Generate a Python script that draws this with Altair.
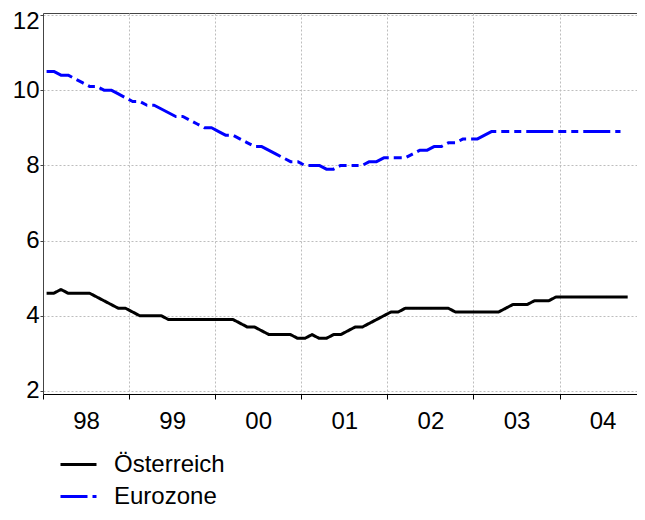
import altair as alt
import pandas as pd

year_labels = ["98", "99", "00", "01", "02", "03", "04"]
series_names = ["Österreich", "Eurozone"]

# monthly values from Jan 1998
austria = [4.6, 4.6, 4.7, 4.6, 4.6, 4.6, 4.6, 4.5, 4.4, 4.3, 4.2, 4.2,
           4.1, 4.0, 4.0, 4.0, 4.0, 3.9, 3.9, 3.9, 3.9, 3.9, 3.9, 3.9,
           3.9, 3.9, 3.9, 3.8, 3.7, 3.7, 3.6, 3.5, 3.5, 3.5, 3.5, 3.4,
           3.4, 3.5, 3.4, 3.4, 3.5, 3.5, 3.6, 3.7, 3.7, 3.8, 3.9, 4.0,
           4.1, 4.1, 4.2, 4.2, 4.2, 4.2, 4.2, 4.2, 4.2, 4.1, 4.1, 4.1,
           4.1, 4.1, 4.1, 4.1, 4.2, 4.3, 4.3, 4.3, 4.4, 4.4, 4.4, 4.5,
           4.5, 4.5, 4.5, 4.5, 4.5, 4.5, 4.5, 4.5, 4.5, 4.5]
eurozone = [10.5, 10.5, 10.4, 10.4, 10.3, 10.2, 10.1, 10.1, 10.0, 10.0, 9.9, 9.8,
            9.7, 9.7, 9.6, 9.6, 9.5, 9.4, 9.3, 9.3, 9.2, 9.1, 9.0, 9.0,
            8.9, 8.8, 8.8, 8.7, 8.6, 8.5, 8.5, 8.4, 8.3, 8.2, 8.1, 8.1,
            8.0, 8.0, 8.0, 7.9, 7.9, 8.0, 8.0, 8.0, 8.0, 8.1, 8.1, 8.2,
            8.2, 8.2, 8.2, 8.3, 8.4, 8.4, 8.5, 8.5, 8.6, 8.6, 8.7, 8.7,
            8.7, 8.8, 8.9, 8.9, 8.9, 8.9, 8.9, 8.9, 8.9, 8.9, 8.9, 8.9,
            8.9, 8.9, 8.9, 8.9, 8.9, 8.9, 8.9, 8.9, 8.9]

rows = []
for name, vals in zip(series_names, [austria, eurozone]):
    for i, v in enumerate(vals):
        rows.append({"t": (i + 0.5) / 12.0, "v": v, "s": name})
df = pd.DataFrame(rows)

FONT = "Liberation Sans"
xscale = alt.Scale(domain=[0, 6.9], nice=False, zero=False)
yscale = alt.Scale(domain=[1.92, 12.053], nice=False, zero=False)

yaxis = alt.Axis(values=[2, 4, 6, 8, 10, 12], grid=True, gridColor="#bdbdbd",
                 gridDash=[2, 2], tickSize=3, tickColor="#444", domainColor="#444",
                 labelFontSize=24, labelFont=FONT, labelColor="black",
                 labelOffset={"condition": {"test": "datum.value == 12", "value": 7}, "value": 0},
                 labelPadding=1, title=None)

leg = alt.Legend(title=None, orient="none", legendX=16, legendY=432,
                 symbolType="stroke", symbolSize=1296, symbolStrokeWidth=3,
                 labelFontSize=24, labelFont=FONT, labelColor="black",
                 labelOffset=16, rowPadding=-8, padding=0)

lines = alt.Chart(df).mark_line(strokeWidth=3, strokeCap="butt", strokeJoin="round").encode(
    x=alt.X("t:Q", scale=xscale,
            axis=alt.Axis(values=list(range(0, 7)), labels=False, grid=True, ticks=True,
                          tickSize=5, tickColor="black", domainColor="black",
                          gridColor="#bdbdbd", gridDash=[2, 2], title=None, orient="bottom")),
    y=alt.Y("v:Q", scale=yscale, axis=yaxis),
    color=alt.Color("s:N", scale=alt.Scale(domain=series_names, range=["#000000", "#0000ff"]),
                    legend=leg),
    strokeDash=alt.StrokeDash("s:N", scale=alt.Scale(domain=series_names,
                                                      range=[[1, 0], [27, 5, 8, 5, 7, 5]]),
                              legend=leg),
)

label_expr = "[" + ",".join("'%s'" % s for s in year_labels) + "][floor(datum.value)]"
labels = alt.Chart(df).mark_point(opacity=0).encode(
    x=alt.X("t:Q", scale=xscale,
            axis=alt.Axis(values=[k + 0.5 for k in range(len(year_labels))], labelExpr=label_expr,
                          grid=False, ticks=False, domain=False, labelFontSize=24,
                          labelFont=FONT, labelColor="black", labelPadding=15,
                          title=None, orient="bottom")),
    y=alt.Y("v:Q", scale=yscale, axis=yaxis),
)

chart = alt.layer(lines, labels).resolve_axis(x="independent").properties(
    width=594, height=381,
    autosize=alt.AutoSizeParams(type="none"),
    padding={"left": 35, "top": 5, "right": 0, "bottom": 114},
).configure_view(stroke="#444", strokeWidth=1)

chart.save("out.html", embed_options={"renderer": "svg", "actions": False})
